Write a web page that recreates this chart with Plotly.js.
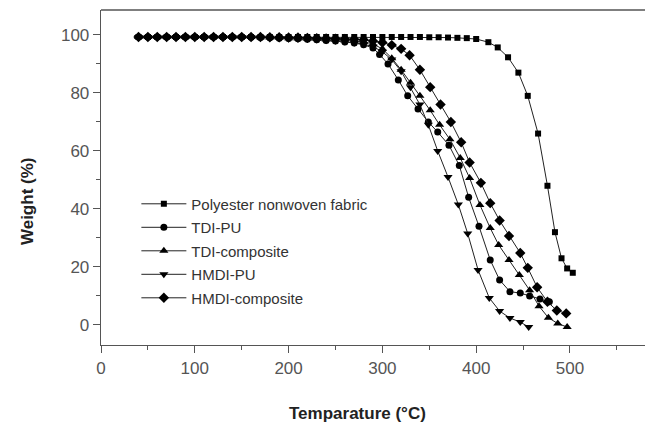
<!DOCTYPE html>
<html><head><meta charset="utf-8">
<script src="https://cdn.plot.ly/plotly-3.0.1.min.js"></script>
<style>html,body{margin:0;padding:0;background:#fff}#chart{width:645px;height:429px}</style>
</head><body><div id="chart"></div>
<script>
const seriesNames = ["Polyester nonwoven fabric","TDI-PU","TDI-composite","HMDI-PU","HMDI-composite"];

const polyT = [40,50,60,70,80,90,100,110,120,130,140,150,160,170,180,190,200,210,220,230,240,250,260,270,280,290,300,310,320,330,340,350,360,370,380,390,400,413,423,434,445,455,466,476,484,491,497,503];
const polyW = [99.3,99.3,99.3,99.3,99.3,99.3,99.3,99.3,99.3,99.3,99.3,99.3,99.3,99.3,99.3,99.3,99.3,99.3,99.3,99.3,99.3,99.3,99.3,99.3,99.3,99.3,99.3,99.3,99.3,99.3,99.3,99.2,99.2,99.1,99,98.9,98.6,97.5,95.7,92.3,87,79,66,48,32,23,19.5,18];

const tdiPuT = [40,50,60,70,80,90,100,110,120,130,140,150,160,170,180,190,200,210,220,230,240,250,260,270,280,290,297,306,317,327,338,349,359,371,382,392,403,415,425,436,447,457,468,478];
const tdiPuW = [99.3,99.3,99.3,99.3,99.3,99.3,99.3,99.3,99.3,99.3,99.3,99.3,99.2,99.1,99,98.9,98.8,98.7,98.5,98.3,98.1,97.9,97.6,97.2,96.6,95.5,93.3,90,84.5,79,74.5,70,66.5,62,55,44,34,22.4,15.5,11.5,11,10,9,8];

const tdiCoT = [40,50,60,70,80,90,100,110,120,130,140,150,160,170,180,190,200,210,220,230,240,250,260,270,280,290,300,310,320,330,340,351,361,372,383,393,404,415,424,435,446,457,467,477,487,497];
const tdiCoW = [99.3,99.3,99.3,99.3,99.3,99.3,99.3,99.3,99.3,99.3,99.3,99.3,99.3,99.2,99.1,99,98.9,98.8,98.7,98.6,98.4,98.3,98.1,97.9,97.6,96.9,95.2,92,88,83.5,79,74,69,64,57.6,50.7,41.4,33.4,27.6,22.4,17.2,12,6.5,2.5,0.5,-0.7];

const hmdiPuT = [40,50,60,70,80,90,100,110,120,130,140,150,160,170,180,190,200,210,220,230,240,250,260,270,280,290,300,310,320,330,340,349,359,370,381,391,402,414,425,436,447,456];
const hmdiPuW = [99.3,99.3,99.3,99.3,99.3,99.3,99.3,99.3,99.3,99.3,99.3,99.3,99.2,99.1,99,98.9,98.8,98.7,98.6,98.4,98.2,98,97.7,97.3,96.8,96,94.2,91.5,87.5,82,76,69,60,51,41.5,31.5,19,9.3,4.8,2.4,1,-0.7];

const hmdiCoT = [40,50,60,70,80,90,100,110,120,130,140,150,160,170,180,190,200,210,220,230,240,250,260,270,280,290,300,310,320,329,340,351,362,373,384,393,405,415,425,435,447,455,465,476,486,496];
const hmdiCoW = [99.3,99.3,99.3,99.3,99.3,99.3,99.3,99.3,99.3,99.3,99.3,99.3,99.3,99.3,99.2,99.2,99.1,99.1,99,98.9,98.8,98.7,98.6,98.5,98.3,97.9,97.4,96.5,95.2,93,88,82,76,70,63,56,49,42,36,30.7,24.8,19.7,13,8,5,4];

const xTickVals = [0,100,200,300,400,500];
const yTickVals = [0,20,40,60,80,100];

const symbols = ["square","circle","triangle-up","triangle-down","diamond"];
const sizes = [6,7,8,8,8];
const xs = [polyT, tdiPuT, tdiCoT, hmdiPuT, hmdiCoT];
const ys = [polyW, tdiPuW, tdiCoW, hmdiPuW, hmdiCoW];

const traces = seriesNames.map((n,i)=>({
  x: xs[i], y: ys[i], name: n, type:"scatter", mode:"lines+markers",
  legendgroup: "g"+i,
  line:{color:"#222", width:1},
  marker:{symbol:symbols[i], size:sizes[i], color:"#000"}
}));

const axisColor = "#555";
const layout = {
  width:645, height:429,
  margin:{l:101, r:0, t:10, b:84},
  paper_bgcolor:"#fff", plot_bgcolor:"#fff",
  showlegend:true,
  legend:{x:0.065, y:0.47, xanchor:"left", yanchor:"top", bgcolor:"rgba(0,0,0,0)",
    font:{family:"Liberation Sans, Arial, sans-serif", size:15, color:"#333"},
    itemwidth:45, tracegroupgap:1},
  xaxis:{range:[0,580], showline:true, linecolor:axisColor, linewidth:1.3,
    ticks:"outside", ticklen:7, tickcolor:axisColor, tickvals:xTickVals,
    minor:{dtick:50, ticks:"outside", ticklen:4, tickcolor:axisColor, showgrid:false},
    showgrid:false, zeroline:false,
    tickfont:{family:"Liberation Sans, Arial, sans-serif", size:17, color:"#555"}},
  yaxis:{range:[-6.9,108.6], showline:true, linecolor:axisColor, linewidth:1.3,
    ticks:"outside", ticklen:7, tickcolor:axisColor, tickvals:yTickVals,
    minor:{dtick:10, ticks:"outside", ticklen:4, tickcolor:axisColor, showgrid:false},
    showgrid:false, zeroline:false,
    tickfont:{family:"Liberation Sans, Arial, sans-serif", size:17, color:"#555"}},
  shapes:[{type:"line", xref:"paper", yref:"paper", x0:0, x1:1, y0:1, y1:1, line:{color:axisColor, width:1.3}}],
  annotations:[
    {text:"Temparature (°C)", xref:"paper", yref:"paper", x:0.472, y:-0.203, xanchor:"center", yanchor:"middle", showarrow:false,
      font:{family:"Liberation Sans, Arial, sans-serif", size:17, color:"#222", weight:"bold"}},
    {text:"Weight (%)", xref:"paper", yref:"paper", x:-0.134, y:0.43, xanchor:"center", yanchor:"middle", textangle:-90, showarrow:false,
      font:{family:"Liberation Sans, Arial, sans-serif", size:17, color:"#222", weight:"bold"}}
  ]
};
Plotly.newPlot("chart", traces, layout, {displayModeBar:false, staticPlot:true});
</script></body></html>
